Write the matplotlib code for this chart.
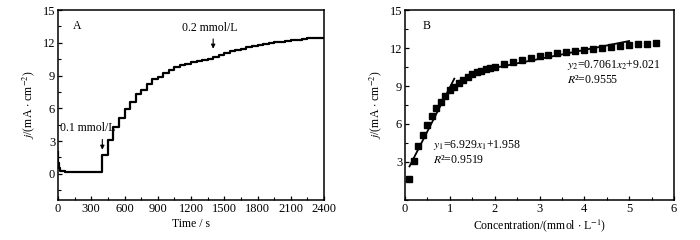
#!/usr/bin/env python3
"""
Two-panel figure: (A) current density vs time during successive additions,
(B) calibration points with the two linear fits.
"""

import matplotlib
matplotlib.use("Agg")
import matplotlib.pyplot as plt
from matplotlib.ticker import MultipleLocator

# ---- data ----------------------------------------------------------------
# panel B: concentration (mmol/L) and steady current density (mA/cm^2)
conc = [0.1, 0.2, 0.3, 0.4, 0.5, 0.6, 0.7, 0.8, 0.9, 1.0,
        1.1, 1.2, 1.3, 1.4, 1.5, 1.6, 1.7, 1.8, 1.9, 2.0,
        2.2, 2.4, 2.6, 2.8, 3.0, 3.2, 3.4, 3.6, 3.8, 4.0,
        4.2, 4.4, 4.6, 4.8, 5.0, 5.2, 5.4, 5.6]
current = [1.69, 3.08, 4.29, 5.13, 5.94, 6.60, 7.30, 7.70, 8.23, 8.65,
           8.90, 9.25, 9.50, 9.75, 9.95, 10.10, 10.22, 10.33, 10.45, 10.52,
           10.72, 10.90, 11.05, 11.20, 11.36, 11.47, 11.57, 11.67, 11.77, 11.86,
           11.95, 12.03, 12.10, 12.18, 12.23, 12.28, 12.33, 12.40]

# panel A: time of each addition (s); level after it is the matching current
add_times = [400, 450, 500, 550, 600, 650, 700, 750, 800, 850,
             900, 950, 1000, 1050, 1100, 1150, 1200, 1250, 1300, 1350,
             1400, 1450, 1500, 1550, 1600, 1650, 1700, 1750, 1800, 1850,
             1900, 1950, 2000, 2050, 2100, 2150, 2200, 2250]
# background before the first addition
base_t = [0, 3, 8, 15, 30, 60, 120, 400]
base_j = [2.0, 1.0, 0.5, 0.3, 0.22, 0.18, 0.15, 0.15]
t_end = 2400

# linear fits shown in panel B
fit1 = {"k": 6.929, "b": 1.958, "x": [0.1, 1.1]}
fit2 = {"k": 0.7061, "b": 9.021, "x": [1.45, 5.0]}

# ---- style ---------------------------------------------------------------
plt.rcParams["font.family"] = ["Liberation Serif", "DejaVu Serif"]
plt.rcParams["mathtext.fontset"] = "stix"
plt.rcParams["font.size"] = 8.5

YLABEL = r"$j$/(mA $\cdot$ cm$^{-2}$)"


def style_axes(ax):
    for sp in ax.spines.values():
        sp.set_linewidth(1.1)
    ax.tick_params(which="both", direction="in", top=False, right=False,
                   labelsize=9, pad=2)
    ax.tick_params(which="major", length=3, width=0.9)
    ax.tick_params(which="minor", length=2, width=0.8)


fig = plt.figure(figsize=(7, 2.4), dpi=100)
ax_a = fig.add_axes([58 / 700, 40 / 240, 266 / 700, 190 / 240])
ax_b = fig.add_axes([405 / 700, 40 / 240, 269 / 700, 190 / 240])

# ---- panel A -------------------------------------------------------------
ts = list(base_t) + add_times + [t_end]
js = list(base_j) + current + [current[-1]]
ax_a.plot(ts, js, color="black", lw=1.6, drawstyle="steps-post")
ax_a.set_xlim(0, 2400)
ax_a.set_ylim(-2.4, 15)
ax_a.xaxis.set_major_locator(MultipleLocator(300))
ax_a.xaxis.set_minor_locator(MultipleLocator(150))
ax_a.yaxis.set_major_locator(MultipleLocator(3))
ax_a.yaxis.set_minor_locator(MultipleLocator(1.5))
style_axes(ax_a)
ax_a.set_xlabel("Time / s", labelpad=2)
ax_a.set_ylabel(YLABEL, labelpad=4)
ax_a.text(169, 13.5, "A", ha="center", va="center")

arrow = dict(arrowstyle="-|>", color="black", lw=0.8, mutation_scale=6)
ax_a.annotate("", xy=(400, 1.95), xytext=(400, 3.4), arrowprops=arrow)
ax_a.text(270, 4.2, "0.1 mmol/L", ha="center", va="center")
ax_a.annotate("", xy=(1400, 11.2), xytext=(1400, 12.6), arrowprops=arrow)
ax_a.text(1371, 13.35, "0.2 mmol/L", ha="center", va="center")

# ---- panel B -------------------------------------------------------------
ax_b.plot(conc, current, ls="none", marker="s", ms=4, color="black")
for fit in (fit1, fit2):
    ys = [fit["k"] * x + fit["b"] for x in fit["x"]]
    ax_b.plot(fit["x"], ys, color="black", lw=1.3)
ax_b.set_xlim(0, 6)
ax_b.set_ylim(0, 15)
ax_b.xaxis.set_major_locator(MultipleLocator(1))
ax_b.xaxis.set_minor_locator(MultipleLocator(0.5))
ax_b.yaxis.set_major_locator(MultipleLocator(3))
ax_b.yaxis.set_minor_locator(MultipleLocator(1.5))
ax_b.set_yticks([3, 6, 9, 12, 15])
style_axes(ax_b)
ax_b.set_xlabel(r"Concentration/(mmol $\cdot$ L$^{-1}$)", labelpad=2)
ax_b.set_ylabel(YLABEL, labelpad=4)
ax_b.text(0.48, 13.74, "B", ha="center", va="center")

ax_b.text(0.62, 4.31, r"$y_1$=6.929$x_1$+1.958", ha="left", va="center")
ax_b.text(0.62, 3.18, r"$R$²=0.9519", ha="left", va="center")
ax_b.text(3.62, 10.67, r"$y_2$=0.7061$x_2$+9.021", ha="left", va="center")
ax_b.text(3.62, 9.49, r"$R$²=0.9555", ha="left", va="center")

fig.savefig("out.png", dpi=100, facecolor="white")
